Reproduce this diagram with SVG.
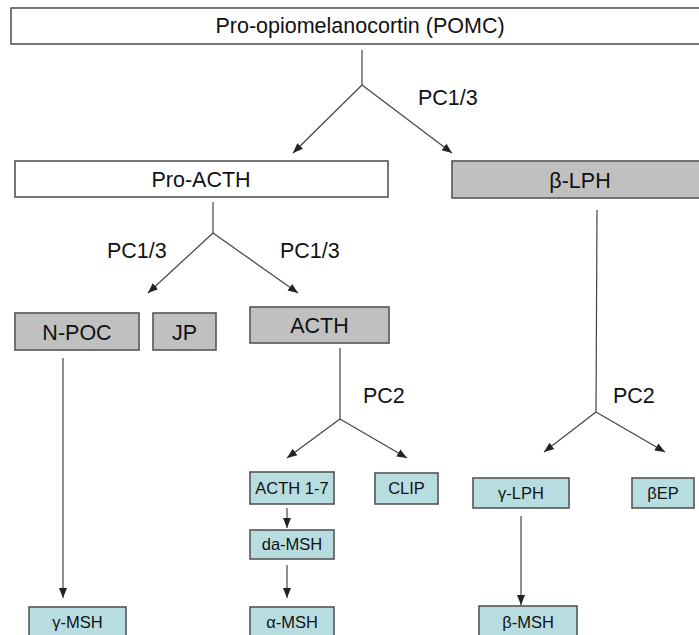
<svg xmlns="http://www.w3.org/2000/svg" width="699" height="635" viewBox="0 0 699 635">
<defs>
<marker id="ah" markerUnits="userSpaceOnUse" markerWidth="10" markerHeight="10" viewBox="0 0 10 10" refX="10" refY="5" orient="auto">
<path d="M0,1 L10,5 L0,9 Z" fill="#222"/>
</marker>
<style>
.box{stroke:#555;stroke-width:1.6}
.w{fill:#ffffff}
.g{fill:#c0c0c0}
.b{fill:#b7dde1}
text{font-family:"Liberation Sans",Arial,sans-serif;fill:#111;text-anchor:middle}
.big{font-size:21.5px}
.sm{font-size:16.5px}
.lbl{font-size:21.5px;text-anchor:start}
.c line,.c path{stroke:#444;stroke-width:1.2;fill:none}
</style>
</defs>
<rect width="699" height="635" fill="#ffffff"/>
<g id="pomc"><rect class="box w" x="11" y="8" width="700" height="36"/><text class="big" x="360" y="33">Pro-opiomelanocortin (POMC)</text></g>
<g id="proacth"><rect class="box w" x="15" y="161" width="373" height="36"/><text class="big" x="201" y="187">Pro-ACTH</text></g>
<g id="blph"><rect class="box g" x="452" y="161" width="260" height="37"/><text class="big" x="580" y="188">β-LPH</text></g>
<g id="npoc"><rect class="box g" x="15" y="313" width="124" height="37"/><text class="big" x="77" y="340">N-POC</text></g>
<g id="jp"><rect class="box g" x="153" y="313" width="63" height="37"/><text class="big" x="184.5" y="340">JP</text></g>
<g id="acth"><rect class="box g" x="250" y="307" width="139" height="36"/><text class="big" x="319.5" y="333">ACTH</text></g>
<g id="acth17"><rect class="box b" x="250" y="472" width="84" height="32"/><text class="sm" x="292" y="494">ACTH 1-7</text></g>
<g id="clip"><rect class="box b" x="375" y="473" width="63" height="31"/><text class="sm" x="406.5" y="494">CLIP</text></g>
<g id="damsh"><rect class="box b" x="250" y="530" width="84" height="29"/><text class="sm" x="292" y="550">da-MSH</text></g>
<g id="gmsh"><rect class="box b" x="29" y="607" width="97" height="40"/><text class="sm" x="77.5" y="628">γ-MSH</text></g>
<g id="amsh"><rect class="box b" x="250" y="607" width="84" height="40"/><text class="sm" x="292" y="628">α-MSH</text></g>
<g id="glph"><rect class="box b" x="473" y="478" width="96" height="30"/><text class="sm" x="521" y="499">γ-LPH</text></g>
<g id="bep"><rect class="box b" x="632" y="478" width="62" height="30"/><text class="sm" x="663" y="499">βEP</text></g>
<g id="bmsh"><rect class="box b" x="479" y="606" width="98" height="40"/><text class="sm" x="528" y="628">β-MSH</text></g>
<g id="connectors" class="c">
<line x1="362" y1="50" x2="362" y2="85"/>
<line x1="362" y1="85" x2="293" y2="153" marker-end="url(#ah)"/>
<line x1="362" y1="85" x2="452" y2="153" marker-end="url(#ah)"/>
<line x1="213" y1="202" x2="213" y2="233"/>
<line x1="213" y1="233" x2="148" y2="293" marker-end="url(#ah)"/>
<line x1="213" y1="233" x2="298" y2="293" marker-end="url(#ah)"/>
<line x1="63" y1="358" x2="63" y2="598" marker-end="url(#ah)"/>
<line x1="340" y1="348" x2="340" y2="419"/>
<line x1="340" y1="419" x2="287" y2="458" marker-end="url(#ah)"/>
<line x1="340" y1="419" x2="407" y2="458" marker-end="url(#ah)"/>
<line x1="597" y1="210" x2="596" y2="412"/>
<line x1="596" y1="412" x2="544" y2="452" marker-end="url(#ah)"/>
<line x1="596" y1="412" x2="665" y2="452" marker-end="url(#ah)"/>
<line x1="287" y1="508" x2="287" y2="528" marker-end="url(#ah)"/>
<line x1="287" y1="565" x2="287" y2="598" marker-end="url(#ah)"/>
<line x1="521" y1="516" x2="521" y2="605" marker-end="url(#ah)"/>
</g>
<g id="labels">
<text class="lbl" x="418" y="105">PC1/3</text>
<text class="lbl" x="107" y="258">PC1/3</text>
<text class="lbl" x="280" y="258">PC1/3</text>
<text class="lbl" x="363" y="403">PC2</text>
<text class="lbl" x="613" y="403">PC2</text>
</g>
</svg>
